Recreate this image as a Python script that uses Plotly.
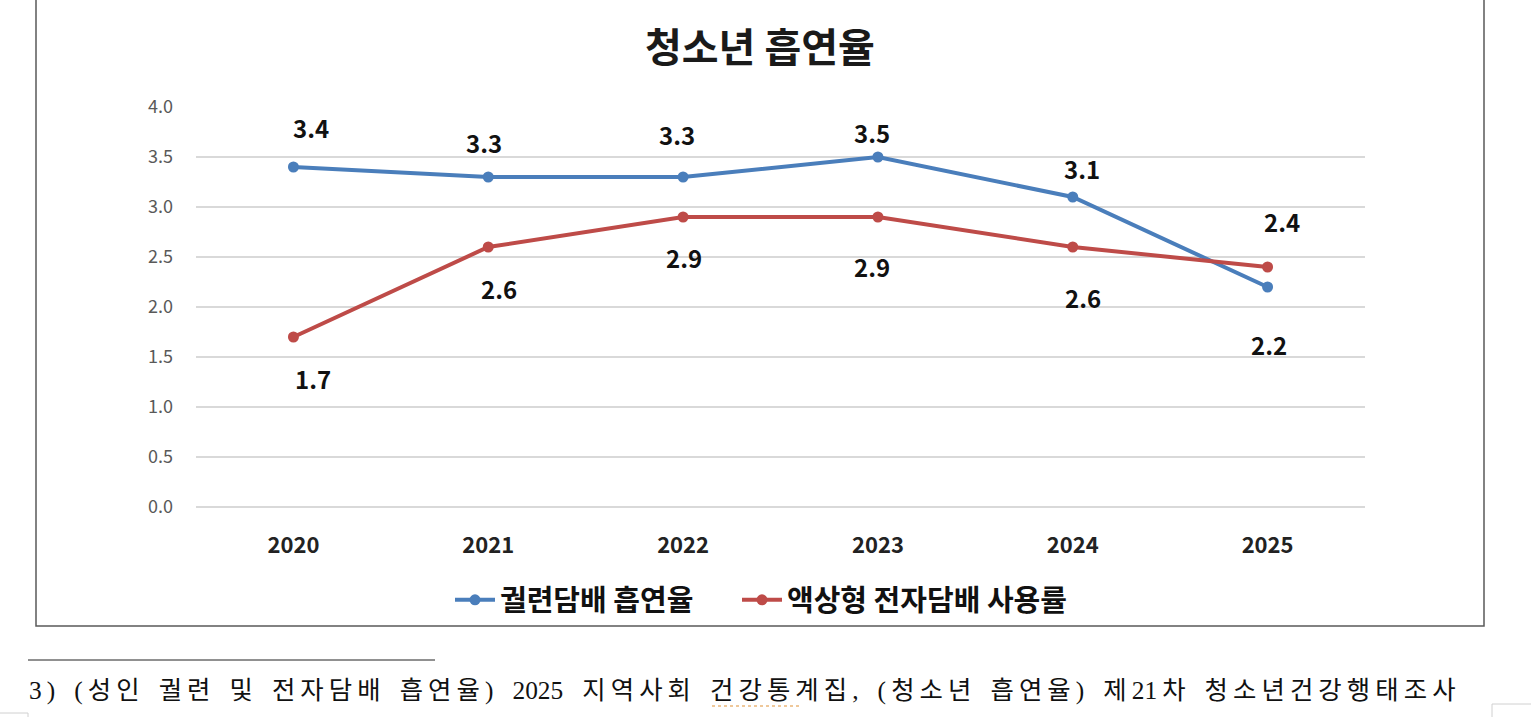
import plotly.graph_objects as go

# ---------------- data ----------------
years = ["2020", "2021", "2022", "2023", "2024", "2025"]
cigarette_rate = [3.4, 3.3, 3.3, 3.5, 3.1, 2.2]
ecig_rate = [1.7, 2.6, 2.9, 2.9, 2.6, 2.4]
cigarette_name = "궐련담배 흡연율"
ecig_name = "액상형 전자담배 사용률"
chart_title = "청소년 흡연율"
y_ticks = [0.0, 0.5, 1.0, 1.5, 2.0, 2.5, 3.0, 3.5, 4.0]
footnote_words = ["3)", "(성인", "궐련", "및", "전자담배", "흡연율)", "2025", "지역사회",
                  "건강통계집,", "(청소년", "흡연율)", "제21차", "청소년건강행태조사"]

# ---------------- style ----------------
W, H = 1531, 717
BLUE = "#4A7EBB"
RED = "#BE4B48"
KR = "Noto Sans CJK KR"
# data-label offsets in px (x shift, y shift; +y = above the point)
cig_lbl_dx = [18, -4, -6, -6, 9, 1]
cig_lbl_dy = [40, 35, 43, 25, 29, -57]
ecig_lbl_dx = [20, 11, 1, -6, 10, 14]
ecig_lbl_dy = [-41, -41, -40, -49, -50, 46]

def px(xp):
    return xp / W

def py(yp):
    return (H - yp) / H

def tracked(word):
    # emulate the document's letter spacing with thin spaces (not between digits)
    out = word[0]
    for a, b in zip(word, word[1:]):
        if not (a.isdigit() and b.isdigit()):
            out += "\u2009"
        out += b
    return out

fig = go.Figure()
fig.add_trace(go.Scatter(
    x=years, y=cigarette_rate, name=cigarette_name, mode="lines+markers",
    line=dict(color=BLUE, width=4), marker=dict(color=BLUE, size=11),
    cliponaxis=False, legend="legend"))
fig.add_trace(go.Scatter(
    x=years, y=ecig_rate, name=ecig_name, mode="lines+markers",
    line=dict(color=RED, width=4), marker=dict(color=RED, size=11),
    cliponaxis=False, legend="legend2"))

annotations = []
for series, dxs, dys in ((cigarette_rate, cig_lbl_dx, cig_lbl_dy),
                         (ecig_rate, ecig_lbl_dx, ecig_lbl_dy)):
    for i, (v, dx, dy) in enumerate(zip(series, dxs, dys)):
        annotations.append(dict(
            x=i, y=v, xref="x", yref="y", text=f"{v:.1f}", showarrow=False,
            xshift=dx, yshift=dy, xanchor="center", yanchor="middle",
            font=dict(family=KR, size=24, color="#111111", weight="bold")))

annotations.append(dict(
    x=px(760), y=py(45), xref="paper", yref="paper", text=chart_title,
    showarrow=False, xanchor="center", yanchor="middle",
    font=dict(family=KR, size=40, color="#1a1a1a", weight="bold")))

sep = "\u00a0" * 3
annotations.append(dict(
    x=px(27), y=py(690), xref="paper", yref="paper",
    text=sep.join(tracked(w) for w in footnote_words),
    showarrow=False, xanchor="left", yanchor="middle",
    font=dict(family="Liberation Serif, Noto Sans CJK KR", size=25.4, color="#111111")))

shapes = [
    # chart border box
    dict(type="rect", xref="paper", yref="paper", x0=px(36), x1=px(1484),
         y0=py(626), y1=py(-5), line=dict(color="#5a5a5a", width=1.5)),
    # footnote separator
    dict(type="line", xref="paper", yref="paper", x0=px(28), x1=px(435),
         y0=py(660), y1=py(660), line=dict(color="#222222", width=1)),
    # spell-check style dotted underline in the footnote
    dict(type="line", xref="paper", yref="paper", x0=px(712), x1=px(800),
         y0=py(706), y1=py(706), line=dict(color="#eab77a", width=1.5, dash="dot")),
    # page corner marks
    dict(type="line", xref="paper", yref="paper", x0=px(0), x1=px(28),
         y0=py(713), y1=py(713), line=dict(color="#d0d0d0", width=1)),
    dict(type="line", xref="paper", yref="paper", x0=px(28), x1=px(28),
         y0=py(713), y1=py(720), line=dict(color="#d0d0d0", width=1)),
    dict(type="line", xref="paper", yref="paper", x0=px(1492), x1=px(1531),
         y0=py(704), y1=py(704), line=dict(color="#d0d0d0", width=1)),
    dict(type="line", xref="paper", yref="paper", x0=px(1492), x1=px(1492),
         y0=py(704), y1=py(720), line=dict(color="#d0d0d0", width=1)),
]

legend_font = dict(family=KR, size=29, color="#111111", weight="bold")
fig.update_layout(
    template="none",
    width=W, height=H, margin=dict(l=0, r=0, t=0, b=0, autoexpand=False),
    paper_bgcolor="white", plot_bgcolor="white",
    showlegend=True,
    legend=dict(orientation="h", x=px(450), xanchor="left", y=py(600),
                yanchor="middle", font=legend_font, itemwidth=40,
                bgcolor="rgba(0,0,0,0)"),
    legend2=dict(orientation="h", x=px(737), xanchor="left", y=py(600),
                 yanchor="middle", font=legend_font, itemwidth=40,
                 bgcolor="rgba(0,0,0,0)"),
    annotations=annotations, shapes=shapes,
    xaxis=dict(domain=[px(196), px(1365)], type="category", range=[-0.5, 5.5],
               showgrid=False, zeroline=False, showline=False, ticks="",
               automargin=False,
               tickfont=dict(family=KR, size=22, color="#222222", weight="bold"),
               ticklabelstandoff=23),
    yaxis=dict(domain=[py(507), py(107)], range=[0, 4], tickvals=y_ticks,
               ticktext=[f"{t:.1f}" for t in y_ticks], automargin=False,
               showgrid=True, gridcolor="#d9d9d9", gridwidth=1.5,
               zeroline=True, zerolinecolor="#d9d9d9", zerolinewidth=1.5,
               showline=False, ticks="",
               tickfont=dict(family=KR, size=18, color="#595959"),
               ticklabelstandoff=22),
)

fig.write_html("out.html")
